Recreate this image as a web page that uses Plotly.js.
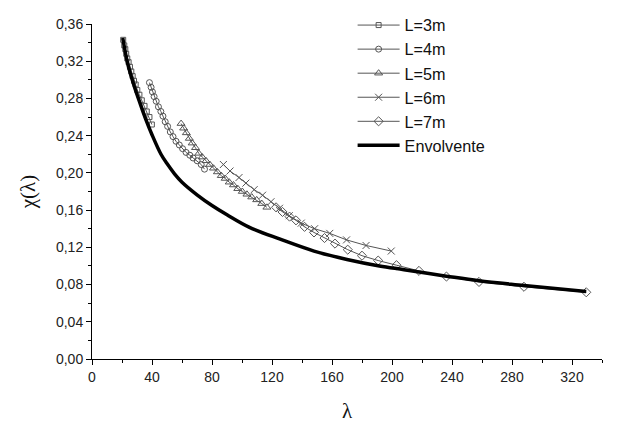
<!DOCTYPE html>
<html>
<head>
<meta charset="utf-8">
<script src="https://cdn.plot.ly/plotly-3.0.1.min.js"></script>
<style>
html,body{margin:0;padding:0;background:#fff;}
#chart{width:617px;height:423px;}
</style>
</head>
<body>
<div id="chart"></div>
<script>
// ---- data ----
const seriesNames = ["L=3m", "L=4m", "L=5m", "L=6m", "L=7m", "Envolvente"];

const l3X = [20.8,21.5,22.2,22.8,23.5,24.4,25.3,26.2,27.1,28.0,29.1,30.2,31.6,33.2,35.0,36.5,38.3,39.9];
const l3Y = [0.343,0.337,0.333,0.328,0.323,0.319,0.314,0.309,0.304,0.299,0.295,0.289,0.284,0.278,0.272,0.266,0.260,0.252];

const l4X = [38.3,39.4,40.3,41.4,42.8,44.3,45.9,47.3,48.8,50.4,52.2,54.0,56.0,58.2,60.4,62.7,65.2,67.4,70.1,72.8,75.0];
const l4Y = [0.297,0.292,0.287,0.282,0.277,0.271,0.266,0.261,0.255,0.250,0.244,0.239,0.234,0.230,0.226,0.222,0.219,0.216,0.213,0.209,0.204];

const l5X = [59.4,61.1,62.9,64.9,66.8,69.0,71.2,73.5,76.0,78.5,81.0,83.6,86.2,88.8,91.5,94.3,97.2,100.2,103.3,106.5,109.8,113.2,116.6];
const l5Y = [0.253,0.248,0.243,0.237,0.232,0.227,0.221,0.217,0.213,0.209,0.205,0.201,0.197,0.194,0.190,0.187,0.183,0.180,0.177,0.174,0.171,0.167,0.163];

const l6X = [87.6,92.0,98.0,102.6,108.1,113.7,119.3,125.0,131.5,139.5,148.4,158.5,169.7,182.7,199.5];
const l6Y = [0.209,0.202,0.195,0.189,0.182,0.176,0.169,0.162,0.154,0.146,0.140,0.135,0.128,0.122,0.116];

const l7X = [122.7,127.0,131.7,136.0,141.7,148.0,155.0,162.0,170.5,180.0,190.8,203.0,218.0,236.3,258.0,288.0,329.5];
const l7Y = [0.163,0.158,0.153,0.149,0.142,0.136,0.130,0.124,0.1175,0.111,0.1058,0.1008,0.0947,0.0886,0.0828,0.0776,0.0717];

const envX = [20.5,24,28,32,36,40,46,50,55,60,70,80,90,105,125,148,170,191.6,208,236.3,258,288,329.5];
const envY = [0.345,0.316,0.294,0.275,0.257,0.241,0.220,0.210,0.199,0.190,0.1765,0.165,0.155,0.1415,0.129,0.116,0.107,0.100,0.096,0.089,0.084,0.079,0.0725];

const xTicks = [0,40,80,120,160,200,240,280,320];
const yTicks = [0,0.04,0.08,0.12,0.16,0.20,0.24,0.28,0.32,0.36];

// ---- styling ----
const grey = "#555555";
function mk(name, x, y, symbol, size) {
  return {
    type: "scatter", mode: "lines+markers", name: name, x: x, y: y,
    line: {color: grey, width: 1},
    marker: {symbol: symbol, size: size, color: grey, line: {color: grey, width: 1}}
  };
}
const traces = [
  mk(seriesNames[0], l3X, l3Y, "square-open", 5),
  mk(seriesNames[1], l4X, l4Y, "circle-open", 6),
  mk(seriesNames[2], l5X, l5Y, "triangle-up-open", 7),
  mk(seriesNames[3], l6X, l6Y, "x-thin-open", 7),
  mk(seriesNames[4], l7X, l7Y, "diamond-open", 7),
  {type: "scatter", mode: "lines", name: seriesNames[5], x: envX, y: envY,
   line: {color: "#000", width: 3.5, shape: "spline", smoothing: 1}}
];

const tickFont = {family: "Liberation Sans, Arial, sans-serif", size: 14, color: "#222"};
const layout = {
  width: 617, height: 423,
  margin: {l: 92, r: 15, t: 24, b: 64, pad: 0, autoexpand: false},
  paper_bgcolor: "#fff", plot_bgcolor: "#fff",
  separators: ",.",
  showlegend: true,
  legend: {
    xref: "paper", yref: "container",
    x: 0.511, y: 0.981, xanchor: "left", yanchor: "top",
    bgcolor: "rgba(0,0,0,0)", borderwidth: 0,
    font: {family: "Liberation Sans, Arial, sans-serif", size: 16.2, color: "#111"},
    tracegroupgap: 0, itemwidth: 42
  },
  xaxis: {
    range: [0, 340], showgrid: false, zeroline: false,
    showline: true, linecolor: "#000", linewidth: 1, mirror: false,
    ticks: "outside", ticklen: 5, tickwidth: 1, tickcolor: "#000",
    tickvals: xTicks, ticktext: xTicks.map(String),
    tickfont: tickFont,
    minor: {dtick: 20, tick0: 0, ticks: "outside", ticklen: 3, tickcolor: "#000", showgrid: false},
    title: {text: "λ", font: {family: "Liberation Serif, Times New Roman, serif", size: 21, color: "#111"}, standoff: 20}
  },
  yaxis: {
    range: [0, 0.36], showgrid: false, zeroline: false,
    showline: true, linecolor: "#000", linewidth: 1, mirror: false,
    ticks: "outside", ticklen: 5, tickwidth: 1, tickcolor: "#000",
    tickvals: yTicks, tickformat: ".2f",
    tickfont: tickFont,
    minor: {dtick: 0.02, tick0: 0, ticks: "outside", ticklen: 3, tickcolor: "#000", showgrid: false},
    title: {text: "χ(λ)", font: {family: "Liberation Serif, Times New Roman, serif", size: 21, color: "#111"}, standoff: 14}
  }
};

Plotly.newPlot("chart", traces, layout, {staticPlot: true, displayModeBar: false});
</script>
</body>
</html>
